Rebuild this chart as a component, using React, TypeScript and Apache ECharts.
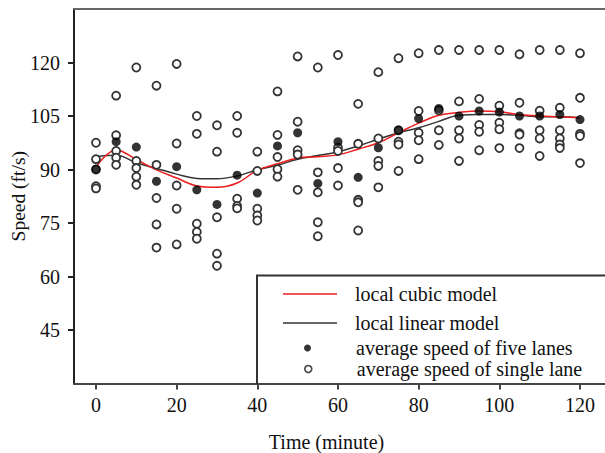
import React, { useEffect, useRef } from "react";
import * as echarts from "echarts";

const times = [0, 5, 10, 15, 20, 25, 30, 35, 40, 45, 50, 55, 60, 65, 70, 75, 80, 85, 90, 95, 100, 105, 110, 115, 120];

const singleLane: number[][] = [
  [97.5, 92.9, 90.0, 85.3, 84.7],
  [110.7, 99.6, 95.2, 93.3, 91.3],
  [118.6, 92.4, 90.4, 88.0, 85.7],
  [113.5, 91.3, 82.0, 74.6, 68.1],
  [119.6, 97.3, 85.5, 79.0, 69.0],
  [105.0, 100.0, 74.8, 72.5, 70.6],
  [102.4, 95.0, 76.6, 66.4, 63.0],
  [105.0, 100.3, 81.8, 79.8, 79.1],
  [95.0, 89.6, 79.0, 77.1, 75.7],
  [111.9, 99.7, 93.5, 90.1, 88.0],
  [121.7, 103.4, 95.4, 94.2, 84.3],
  [118.6, 89.2, 83.6, 75.2, 71.3],
  [122.1, 96.1, 95.2, 90.4, 85.5],
  [108.4, 97.2, 81.5, 80.8, 72.9],
  [117.3, 98.7, 92.4, 91.0, 85.0],
  [121.2, 101.0, 97.8, 97.0, 89.6],
  [122.6, 106.4, 100.3, 98.2, 92.9],
  [123.5, 106.6, 101.0, 96.9],
  [123.5, 109.1, 101.0, 98.7, 92.4],
  [123.5, 109.8, 102.5, 100.6, 95.4],
  [123.5, 107.9, 103.1, 101.3, 96.0],
  [122.3, 108.7, 100.2, 99.8, 96.0],
  [123.5, 106.5, 101.0, 98.7, 93.8],
  [123.5, 107.3, 101.0, 98.7, 97.0, 96.0],
  [122.6, 110.1, 100.0, 99.4, 91.8],
];

const fiveLanes = [90.1, 97.8, 96.3, 86.7, 90.8, 84.3, 80.2, 88.4, 83.4, 96.6, 100.3, 86.1, 97.8, 87.8, 96.1, 101.0, 104.3, 107.1, 105.0, 106.4, 106.1, 105.0, 105.0, 105.4, 104.0];

const localCubic = [90.6, 95.5, 92.8, 89.9, 87.6, 85.4, 85.0, 86.2, 89.8, 91.6, 93.2, 93.6, 94.1, 95.7, 97.5, 100.3, 103.0, 105.2, 106.0, 106.4, 106.2, 105.4, 105.0, 104.8, 104.5];

const localLinear = [93.6, 94.0, 91.9, 90.3, 88.7, 87.5, 87.4, 88.2, 89.9, 91.2, 92.9, 93.9, 95.0, 96.6, 98.5, 100.3, 101.7, 103.5, 105.2, 105.4, 105.4, 105.2, 104.8, 104.8, 104.5];

const xTicks = [0, 20, 40, 60, 80, 100, 120];
const yTicks = [45, 60, 75, 90, 105, 120];

const seriesNames = {
  cubic: "local cubic model",
  linear: "local linear model",
  five: "average speed of five lanes",
  single: "average speed of single lane",
};

const FONT = "'Liberation Serif', 'Times New Roman', serif";

export default function App() {
  const ref = useRef<HTMLDivElement>(null);

  useEffect(() => {
    if (!ref.current) return;
    const chart = echarts.init(ref.current, undefined, { renderer: "svg" });

    const singleData: number[][] = [];
    times.forEach((t, i) => singleLane[i].forEach((v) => singleData.push([t, v])));

    const legendText = (pad: number) => ({
      fontFamily: FONT,
      fontSize: 20,
      color: "#111",
      lineHeight: 20,
      padding: [0, 0, 0, pad],
    });

    chart.setOption({
      animation: false,
      backgroundColor: "#fff",
      textStyle: { fontFamily: FONT },
      grid: { left: 74, top: 9, right: 0, bottom: 69.5, containLabel: false, outerBoundsMode: "none" },
      xAxis: [
        {
          type: "value",
          min: -5.45,
          max: 126.2,
          position: "bottom",
          name: "Time (minute)",
          nameLocation: "middle",
          nameGap: 48,
          nameMoveOverlap: false,
          nameTextStyle: { fontFamily: FONT, fontSize: 20, color: "#111", padding: [0, 26, 0, 0] },
          axisLine: { show: true, onZero: false, lineStyle: { color: "#444", width: 2 } },
          axisTick: { show: true, customValues: xTicks, length: 6, inside: false, lineStyle: { color: "#444", width: 2 } },
          axisLabel: { customValues: xTicks, fontFamily: FONT, fontSize: 20, color: "#111", margin: 11 },
          splitLine: { show: false },
        },
        {
          type: "value",
          min: -5.45,
          max: 126.2,
          position: "top",
          axisLine: { show: true, onZero: false, lineStyle: { color: "#666", width: 2 } },
          axisTick: { show: false },
          axisLabel: { show: false },
          splitLine: { show: false },
        },
      ],
      yAxis: {
        type: "value",
        min: 30,
        max: 135,
        name: "Speed (ft/s)",
        nameLocation: "middle",
        nameGap: 46,
        nameMoveOverlap: false,
        nameTextStyle: { fontFamily: FONT, fontSize: 19.5, color: "#111" },
        axisLine: { show: true, onZero: false, lineStyle: { color: "#222", width: 2 } },
        axisTick: { show: true, customValues: yTicks, length: 6, lineStyle: { color: "#222", width: 2 } },
        axisLabel: { customValues: yTicks, fontFamily: FONT, fontSize: 20, color: "#111", margin: 14 },
        splitLine: { show: false },
      },
      legend: [
        {
          selectedMode: false,
          padding: 0,
          left: 283,
          top: 284,
          itemWidth: 54,
          itemHeight: 1.5,
          textStyle: legendText(13),
          data: [{ name: seriesNames.cubic, icon: "rect", itemStyle: { color: "#ee1c1c" } }],
        },
        {
          selectedMode: false,
          padding: 0,
          left: 283,
          top: 313,
          itemWidth: 54,
          itemHeight: 1.5,
          textStyle: legendText(13),
          data: [{ name: seriesNames.linear, icon: "rect", itemStyle: { color: "#333" } }],
        },
        {
          selectedMode: false,
          padding: 0,
          left: 304,
          top: 338,
          itemWidth: 7,
          itemHeight: 7,
          textStyle: legendText(40),
          data: [{ name: seriesNames.five, icon: "circle", itemStyle: { color: "#000", borderWidth: 0 } }],
        },
        {
          selectedMode: false,
          padding: 0,
          left: 304,
          top: 359,
          itemWidth: 7,
          itemHeight: 7,
          textStyle: legendText(40),
          data: [{ name: seriesNames.single, icon: "circle", itemStyle: { color: "#fff", borderColor: "#444", borderWidth: 1.6 } }],
        },
      ],
      graphic: [
        {
          type: "polyline",
          shape: { points: [[257, 384], [257, 275.5], [606, 275.5]] },
          style: { stroke: "#333", lineWidth: 2, fill: "none" },
          z: 10,
        },
      ],
      series: [
        {
          name: seriesNames.linear,
          type: "line",
          data: times.map((t, i) => [t, localLinear[i]]),
          smooth: 0.4,
          showSymbol: false,
          lineStyle: { color: "#333", width: 1.5 },
          itemStyle: { color: "#333" },
          z: 2,
        },
        {
          name: seriesNames.cubic,
          type: "line",
          data: times.map((t, i) => [t, localCubic[i]]),
          smooth: 0.4,
          showSymbol: false,
          lineStyle: { color: "#ee1c1c", width: 1.5 },
          itemStyle: { color: "#ee1c1c" },
          z: 3,
        },
        {
          name: seriesNames.single,
          type: "scatter",
          data: singleData,
          symbol: "circle",
          symbolSize: 8,
          itemStyle: { color: "#fff", borderColor: "#333", borderWidth: 1.8, opacity: 1 },
          z: 4,
        },
        {
          name: seriesNames.five,
          type: "scatter",
          data: times.map((t, i) => [t, fiveLanes[i]]),
          symbol: "circle",
          symbolSize: 9,
          itemStyle: { color: "#000" },
          z: 5,
        },
      ],
    });

    return () => chart.dispose();
  }, []);

  return (
    <div
      ref={ref}
      style={{ position: "fixed", left: 0, top: 0, width: 605, height: 453, background: "#fff" }}
    />
  );
}
